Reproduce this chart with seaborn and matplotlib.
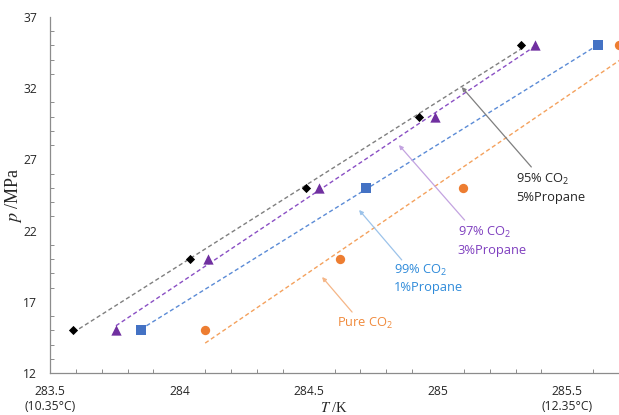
import matplotlib
matplotlib.use("Agg")
import matplotlib.pyplot as plt
from matplotlib.ticker import MultipleLocator, FixedLocator
import seaborn as sns
import pandas as pd

# Hydrate equilibrium points: temperature (K) against pressure (MPa)
T_95 = [283.59, 284.04, 284.49, 284.925, 285.32]
p_95 = [15, 20, 25, 30, 35]
T_97 = [283.755, 284.11, 284.54, 284.99, 285.375]
p_97 = [15, 20, 25, 30, 35]
T_99 = [283.85, 284.72, 285.62]
p_99 = [15, 25, 35]
T_pure = [284.10, 284.62, 285.095, 285.70]
p_pure = [15, 20, 25, 35]

# Reference curve for pure CO2
T_pure_ref = [284.10, 285.75]
p_pure_ref = [14.1, 34.55]

x_ticks = [283.5, 284.0, 284.5, 285.0, 285.5]
x_ticklabels = ["283.5\n(10.35°C)", "284", "284.5", "285", "285.5\n(12.35°C)"]
y_ticks = [12, 17, 22, 27, 32, 37]

sns.set_theme(style="white")
plt.rcParams["font.family"] = ["Open Sans", "DejaVu Sans"]
plt.rcParams["mathtext.fontset"] = "stix"

fig = plt.figure(figsize=(6.19, 4.15), dpi=100)
ax = fig.add_axes([50 / 619, 42 / 415, 569 / 619, 356 / 415])

dash = (0, (3, 2))
series = [
    (T_95, p_95, "#000000", "#7f7f7f", "D", 22),
    (T_97, p_97, "#7030A0", "#8a4fc4", "^", 55),
    (T_99, p_99, "#4472C4", "#5b8bd6", "s", 48),
]
for T, p, mc, lc, mk, s in series:
    df = pd.DataFrame({"T": T, "p": p})
    sns.regplot(data=df, x="T", y="p", ax=ax, scatter=False, ci=None,
                line_kws=dict(color=lc, lw=1.0, linestyle=dash))
    sns.scatterplot(data=df, x="T", y="p", ax=ax, marker=mk, color=mc,
                    s=s, linewidth=0, zorder=3)

ref = pd.DataFrame({"T": T_pure_ref, "p": p_pure_ref})
sns.lineplot(data=ref, x="T", y="p", ax=ax, color="#f4a15d", lw=1.0,
             linestyle=dash)
pure = pd.DataFrame({"T": T_pure, "p": p_pure})
sns.scatterplot(data=pure, x="T", y="p", ax=ax, marker="o", color="#ED7D31",
                s=45, linewidth=0, zorder=3)

ax.set_xlim(283.5, 285.7)
ax.set_ylim(12, 37)

ax.xaxis.set_major_locator(FixedLocator(x_ticks))
ax.set_xticklabels(x_ticklabels)
ax.xaxis.set_minor_locator(MultipleLocator(0.1))
ax.yaxis.set_major_locator(FixedLocator(y_ticks))
ax.set_yticklabels([str(v) for v in y_ticks])
ax.yaxis.set_minor_locator(MultipleLocator(1))

for side in ["top", "right"]:
    ax.spines[side].set_visible(False)
for side in ["left", "bottom"]:
    ax.spines[side].set_color("#8c8c8c")
    ax.spines[side].set_linewidth(0.9)

ax.tick_params(which="major", direction="inout", length=6, width=0.8,
               color="#8c8c8c", labelsize=8.7, labelcolor="#262626")
ax.tick_params(axis="y", which="major", pad=6.5)
ax.tick_params(axis="x", which="major", pad=5.5)
ax.tick_params(which="minor", direction="in", length=3, width=0.7,
               color="#8c8c8c", bottom=True, left=True)

ax.set_xlabel("$T$ /K", family="Liberation Serif", fontsize=10.5,
              color="#262626")
ax.xaxis.set_label_coords(0.5, -0.08)
ax.set_ylabel("$p$ /MPa", family="Liberation Serif", fontsize=13,
              color="#262626")
ax.yaxis.set_label_coords(-0.046, 0.5)

ann = [
    ("95% $\\mathregular{CO_2}$\n5%Propane", "#262626", "#7f7f7f",
     (285.092, 32.08), (285.361, 26.47), (285.303, 26.1)),
    ("97% $\\mathregular{CO_2}$\n3%Propane", "#7F3FBF", "#c3a3e0",
     (284.849, 28.01), (285.103, 22.74), (285.076, 22.4)),
    ("99% $\\mathregular{CO_2}$\n1%Propane", "#2F8BDA", "#9cc3ea",
     (284.695, 23.45), (284.860, 19.94), (284.829, 19.75)),
    ("Pure $\\mathregular{CO_2}$", "#F08A3C", "#f5b687",
     (284.552, 18.74), (284.668, 16.28), (284.610, 16.0)),
]
for text, tc, ac, head, tail, pos in ann:
    ax.annotate("", xy=head, xytext=tail,
                arrowprops=dict(arrowstyle="-|>", color=ac, lw=0.9,
                                mutation_scale=6, shrinkA=0, shrinkB=0))
    ax.text(pos[0], pos[1], text, color=tc, fontsize=9.3, ha="left",
            va="top", linespacing=1.35)

fig.savefig("out.png", dpi=100)
